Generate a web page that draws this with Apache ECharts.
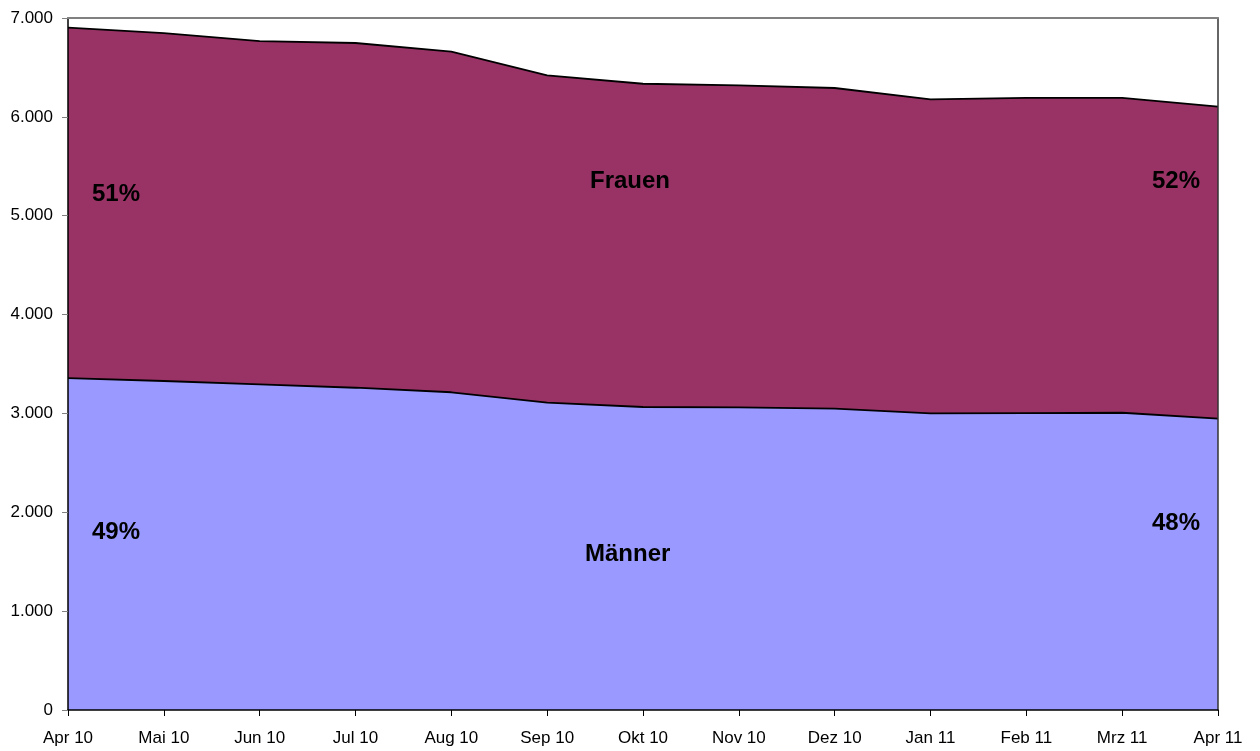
<!DOCTYPE html>
<html>
<head>
<meta charset="utf-8">
<script src="https://cdn.jsdelivr.net/npm/echarts@6/dist/echarts.min.js"></script>
<style>
  html, body { margin: 0; padding: 0; background: #fff; }
  #chart { width: 1260px; height: 751px; }
</style>
</head>
<body>
<div id="chart"></div>
<script>
    // Monate
    var months = ['Apr 10', 'Mai 10', 'Jun 10', 'Jul 10', 'Aug 10', 'Sep 10', 'Okt 10',
        'Nov 10', 'Dez 10', 'Jan 11', 'Feb 11', 'Mrz 11', 'Apr 11'];
    var maenner = [3358, 3328, 3294, 3260, 3214, 3109, 3065, 3062, 3048, 3001, 3004, 3007, 2947];
    var frauen = [3544, 3520, 3473, 3487, 3445, 3311, 3270, 3257, 3244, 3176, 3189, 3186, 3156];
    var yTicks = [0, 1000, 2000, 3000, 4000, 5000, 6000, 7000];

    var FONT = 'Liberation Sans, Arial, sans-serif';

    // 7000 -> "7.000"
    function fmt(v) {
        return String(v).replace(/\B(?=(\d{3})+(?!\d))/g, '.');
    }

    function label(text, left, top) {
        return {
            type: 'text',
            left: left,
            top: top,
            z: 100,
            style: {
                text: text,
                fill: '#000',
                font: 'bold 24px ' + FONT
            }
        };
    }

    var option = {
        animation: false,
        backgroundColor: '#fff',
        grid: {
            left: 68,
            right: 42,
            top: 18,
            bottom: 41
        },
        xAxis: [{
            type: 'category',
            data: months,
            boundaryGap: false,
            z: 10,
            axisLine: { lineStyle: { color: '#000', width: 1.5 } },
            axisTick: { show: true, length: 6, lineStyle: { color: '#000' } },
            axisLabel: {
                color: '#000',
                fontSize: 17,
                fontFamily: FONT,
                margin: 20,
                interval: 0
            },
            splitLine: { show: false }
        }, {
            type: 'category',
            data: months,
            position: 'top',
            boundaryGap: false,
            z: 10,
            axisLine: { show: true, onZero: false, lineStyle: { color: '#808080', width: 2 } },
            axisTick: { show: false },
            axisLabel: { show: false }
        }],
        yAxis: [{
            type: 'value',
            min: yTicks[0],
            max: yTicks[yTicks.length - 1],
            interval: 1000,
            z: 10,
            axisLine: { show: true, onZero: false, lineStyle: { color: '#000', width: 1.5 } },
            axisTick: { show: true, length: 6, lineStyle: { color: '#808080' } },
            axisLabel: {
                color: '#000',
                fontSize: 17,
                fontFamily: FONT,
                margin: 15,
                formatter: fmt
            },
            splitLine: { show: false }
        }, {
            type: 'value',
            position: 'right',
            min: yTicks[0],
            max: yTicks[yTicks.length - 1],
            interval: 1000,
            z: 10,
            axisLine: { show: true, onZero: false, lineStyle: { color: '#333', width: 1.5 } },
            axisTick: { show: false },
            axisLabel: { show: false },
            splitLine: { show: false }
        }],
        series: [{
            name: 'Männer',
            type: 'line',
            stack: 'gesamt',
            data: maenner,
            symbol: 'none',
            lineStyle: { color: '#000', width: 1.8 },
            areaStyle: { color: '#9999FF', opacity: 1 },
            z: 3
        }, {
            name: 'Frauen',
            type: 'line',
            stack: 'gesamt',
            data: frauen,
            symbol: 'none',
            lineStyle: { color: '#000', width: 1.8 },
            areaStyle: { color: '#993366', opacity: 1 },
            z: 2
        }],
        graphic: [
            label('51%', 92, 182),
            label('49%', 92, 520),
            label('Frauen', 590, 169),
            label('Männer', 585, 542),
            label('52%', 1152, 169),
            label('48%', 1152, 511)
        ]
    };

    var myChart = echarts.init(document.getElementById('chart'));
    myChart.setOption(option);
    window.addEventListener('resize', function () {
        myChart.resize();
    });
</script>
</body>
</html>
